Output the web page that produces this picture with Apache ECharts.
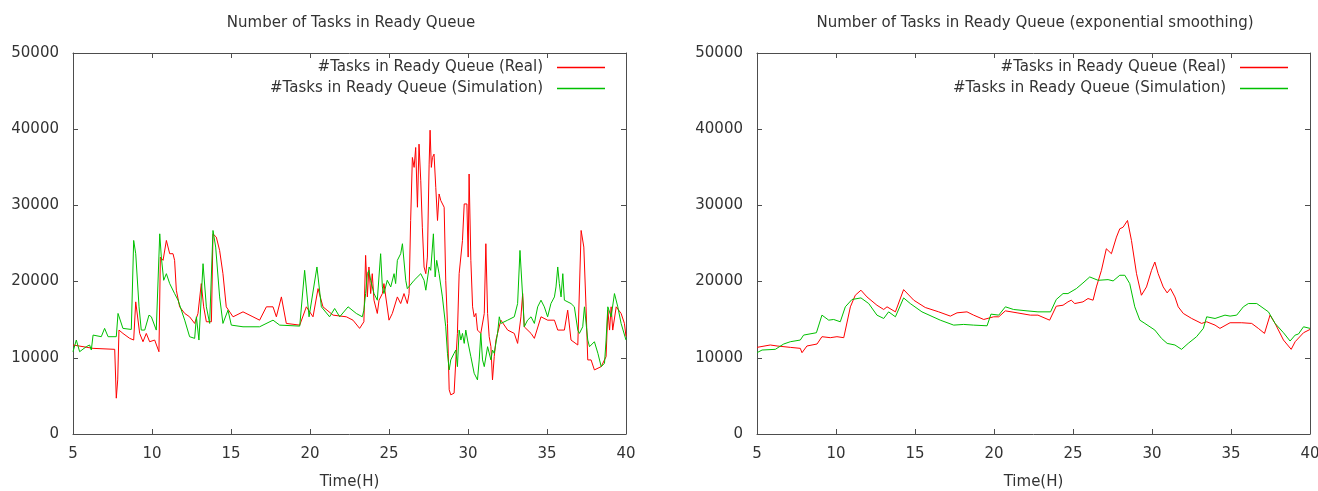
<!DOCTYPE html>
<html>
<head>
<meta charset="utf-8">
<script src="https://cdn.jsdelivr.net/npm/echarts@6/dist/echarts.min.js"></script>
<style>
html,body{margin:0;padding:0;background:#fff;}
#c{width:1318px;height:491px;}
</style>
</head>
<body>
<div id="c"></div>
<script>
// ---- titles / labels ----
const titleLeft = 'Number of Tasks in Ready Queue';
const titleRight = 'Number of Tasks in Ready Queue (exponential smoothing)';
const xName = 'Time(H)';
const nameReal = '#Tasks in Ready Queue (Real)';
const nameSim = '#Tasks in Ready Queue (Simulation)';

// ---- axis ranges ----
const xMin = 5, xMax = 40, xStep = 5;
const yMin = 0, yMax = 50000, yStep = 10000;

// ---- left panel: raw values [time(H), tasks] ----
const realRaw = [
[5.00,11680],[6.27,11240],[7.64,11110],[7.74,4700],[7.83,7100],[7.91,13640],[8.16,13200],[8.59,12550],[8.84,12330],[8.97,17340],
[9.07,17120],[9.22,13200],[9.43,12110],[9.64,13200],[9.85,12110],[10.17,12330],[10.44,10800],[10.53,23220],[10.70,22790],[10.91,25400],
[11.12,23660],[11.33,23660],[11.43,22790],[11.54,18870],[11.75,16690],[12.07,15820],[12.38,15380],[12.70,14510],[12.91,15820],[13.12,19740],
[13.27,16690],[13.44,14730],[13.76,14730],[13.86,26270],[14.07,25840],[14.28,24090],[14.49,21040],[14.70,16690],[15.13,15380],[15.76,16030],
[16.39,15380],[16.81,14940],[17.24,16690],[17.66,16690],[17.87,15380],[18.19,17990],[18.50,14510],[19.35,14290],[19.77,16690],[20.19,15380],
[20.51,19080],[20.82,16690],[21.46,15600],[22.30,15380],[22.72,14940],[23.14,13860],[23.41,14730],[23.52,23440],[23.63,17990],[23.73,21920],
[23.84,18430],[23.94,21040],[24.05,17560],[24.26,15820],[24.37,17560],[24.58,18430],[24.68,19740],[25.00,14940],[25.21,15820],[25.53,17990],
[25.74,17120],[25.95,18430],[26.16,17120],[26.27,18430],[26.37,28020],[26.48,36290],[26.59,34990],[26.69,37600],[26.80,29760],[26.90,38040],
[27.01,33240],[27.11,27140],[27.22,21920],[27.33,21040],[27.43,23220],[27.54,35420],[27.60,39870],[27.68,34990],[27.75,36290],[27.85,36730],
[27.96,32370],[28.07,28020],[28.17,31500],[28.28,30630],[28.49,29760],[28.59,20170],[28.70,14510],[28.81,5800],[28.91,5140],[29.12,5360],
[29.23,9720],[29.33,13200],[29.44,21040],[29.65,25400],[29.76,30190],[29.93,30190],[30.01,23220],[30.07,34120],[30.18,22790],[30.29,16690],
[30.39,15380],[30.50,15820],[30.60,13640],[30.81,13200],[31.03,15820],[31.13,24970],[31.24,15820],[31.34,12770],[31.45,11460],[31.55,7100],
[31.66,10150],[31.77,12330],[31.87,13200],[32.08,14940],[32.51,13640],[32.93,13200],[33.14,11890],[33.35,15380],[33.46,18430],[33.56,14070],
[33.99,13200],[34.20,12550],[34.62,15380],[35.04,14940],[35.47,14940],[35.68,13640],[36.10,13640],[36.31,16250],[36.52,12330],[36.95,11680],
[37.16,26710],[37.33,24530],[37.47,16690],[37.58,9720],[37.79,9720],[38.00,8410],[38.43,8840],[38.74,10150],[38.85,16250],[38.96,13640],
[39.06,16690],[39.16,13640],[39.38,16690],[39.69,15820],[39.90,14510],[40.00,12800]
];
const simRaw = [
[5.00,10800],[5.21,12330],[5.42,10800],[5.84,11460],[6.05,11680],[6.16,11020],[6.27,12980],[6.79,12770],[7.00,13860],[7.22,12770],
[7.74,12770],[7.85,15820],[8.16,13860],[8.69,13720],[8.84,25400],[8.97,23660],[9.18,16690],[9.32,13640],[9.54,13640],[9.81,15600],
[9.96,15380],[10.27,13640],[10.49,26270],[10.59,23220],[10.74,20170],[10.91,21040],[11.12,19740],[11.43,18430],[11.65,17560],[12.07,14940],
[12.38,12770],[12.70,12550],[12.81,15380],[12.97,12330],[13.23,22350],[13.44,16690],[13.65,14510],[13.86,26710],[14.03,24530],[14.28,17990],
[14.49,14510],[14.81,16250],[15.02,14290],[15.76,14070],[16.81,14070],[17.66,14940],[18.08,14290],[19.35,14160],[19.66,21480],[19.94,15380],
[20.44,21920],[20.72,16690],[21.24,15380],[21.56,16470],[21.88,15380],[22.41,16690],[22.93,15820],[23.31,15380],[23.41,16250],[23.52,18430],
[23.63,21040],[23.73,21480],[23.84,20170],[24.05,18430],[24.26,17560],[24.47,23660],[24.58,19300],[24.68,18430],[24.89,20170],[25.11,19300],
[25.32,21040],[25.42,19740],[25.53,22790],[25.74,23660],[25.85,24970],[25.95,24970],[26.06,20170],[26.16,19080],[26.59,20170],[27.01,21040],
[27.22,20170],[27.33,18870],[27.54,21920],[27.64,21480],[27.81,26270],[27.92,20610],[28.02,22790],[28.17,21040],[28.38,17990],[28.59,14070],
[28.70,10590],[28.81,8410],[28.91,9720],[29.12,10590],[29.23,11020],[29.33,8840],[29.44,13640],[29.55,12330],[29.65,13200],[29.76,11890],
[29.86,13640],[29.97,12330],[30.18,10150],[30.39,7970],[30.60,7100],[30.71,9720],[30.81,13200],[30.92,9720],[31.03,8840],[31.24,11460],
[31.45,9720],[31.55,11020],[31.66,10590],[31.87,13200],[31.98,15380],[32.08,14510],[32.51,14940],[32.93,15380],[33.14,17120],[33.29,24090],
[33.46,17990],[33.56,14070],[33.77,14940],[33.99,15380],[34.20,14510],[34.41,16690],[34.62,17560],[34.83,16690],[35.04,15380],[35.25,17120],
[35.47,17990],[35.57,19300],[35.68,21920],[35.78,19740],[35.89,17990],[36.00,21040],[36.10,17560],[36.52,17120],[36.73,16690],[36.95,13640],
[37.05,13200],[37.26,14070],[37.37,16690],[37.58,12330],[37.69,11460],[38.00,12110],[38.22,10590],[38.43,8840],[38.64,9280],[38.74,12330],
[38.85,16690],[39.06,15380],[39.27,18430],[39.38,18430],[39.48,16690],[39.69,14510],[40.00,12330]
];

// ---- right panel: exponentially smoothed values [time(H), tasks] ----
const realSmooth = [
[5.00,11370],[5.84,11680],[6.27,11550],[7.11,11370],[7.74,11240],[7.85,10670],[8.16,11550],[8.80,11810],[9.11,12770],[9.64,12640],
[10.06,12770],[10.49,12640],[10.91,16690],[11.22,18210],[11.58,18870],[11.96,17990],[12.59,16900],[13.02,16340],[13.23,16690],[13.76,16030],
[14.28,18950],[14.92,17560],[15.65,16600],[16.50,16030],[17.24,15470],[17.66,15900],[18.29,16030],[18.71,15600],[19.35,15030],[19.98,15380],
[20.30,15380],[20.72,16160],[21.46,15900],[22.30,15600],[22.78,15600],[23.52,14940],[23.94,16770],[24.37,16900],[24.68,17340],[24.89,17560],
[25.11,17120],[25.63,17340],[25.95,17780],[26.27,17560],[26.48,19300],[26.80,21480],[27.11,24310],[27.43,23660],[27.75,25840],[27.96,26930],
[28.17,27140],[28.45,28020],[28.70,25400],[29.02,21040],[29.33,18210],[29.65,19300],[29.97,21480],[30.18,22570],[30.39,21040],[30.71,19300],
[30.96,18520],[31.17,19080],[31.45,17990],[31.66,16690],[31.98,15820],[32.51,15160],[33.14,14510],[33.46,14730],[33.99,14290],[34.30,13860],
[34.94,14600],[35.68,14600],[36.31,14510],[36.73,13860],[37.12,13200],[37.47,15600],[37.79,14510],[38.32,12330],[38.81,11110],[39.06,12110],
[39.59,13290],[40.00,13720]
];
const simSmooth = [
[5.00,10670],[5.32,11020],[6.16,11110],[6.69,11810],[7.11,12110],[7.74,12330],[7.95,12980],[8.76,13290],[9.11,15600],[9.54,14940],
[9.85,15030],[10.27,14730],[10.59,16690],[11.01,17650],[11.58,17860],[12.07,17120],[12.59,15600],[13.02,15160],[13.33,16030],[13.76,15380],
[14.28,17860],[14.70,17120],[15.44,16030],[16.60,14940],[17.45,14290],[18.08,14380],[18.71,14290],[19.56,14200],[19.81,15730],[20.30,15600],
[20.72,16690],[21.24,16340],[22.09,16160],[22.78,16030],[23.58,16030],[23.94,17650],[24.37,18430],[24.68,18430],[25.21,19080],[25.63,19820],
[26.06,20610],[26.59,20170],[27.22,20260],[27.54,20090],[27.96,20830],[28.28,20830],[28.59,19740],[28.91,16690],[29.23,14940],[29.55,14510],
[30.18,13640],[30.60,12550],[30.96,11890],[31.07,12110],[31.45,11680],[31.87,11110],[32.29,11890],[32.82,12770],[33.25,13860],[33.46,15380],
[33.99,15160],[34.62,15600],[34.94,15470],[35.36,15600],[35.78,16690],[36.10,17120],[36.63,17120],[37.37,16030],[37.79,14510],[38.32,13290],
[38.74,12200],[39.06,12980],[39.27,13120],[39.59,14070],[40.00,13860]
];

const RED = '#ff0000', GREEN = '#00c000';
const FONT = 'DejaVu Sans';
const TXT = '#333333';
const AX = '#4d4d4d';

const chart = echarts.init(document.getElementById('c'), null, {renderer: 'canvas'});

function xAx(grid, pos, labels) {
  return {
    type: 'value', gridIndex: grid, position: pos, min: xMin, max: xMax, interval: xStep,
    name: labels ? xName : '', nameLocation: 'middle', nameGap: 41,
    nameTextStyle: {fontFamily: FONT, fontSize: 15, color: TXT},
    axisLine: {show: true, onZero: false, lineStyle: {color: AX, width: 1}},
    axisTick: {show: true, inside: true, length: 5, lineStyle: {color: AX}},
    axisLabel: {show: labels, margin: 13, fontFamily: FONT, fontSize: 15, color: TXT,
      formatter: function (v) { return String(v); }},
    splitLine: {show: false}
  };
}
function yAx(grid, pos, labels) {
  return {
    type: 'value', gridIndex: grid, position: pos, min: yMin, max: yMax, interval: yStep,
    axisLine: {show: true, onZero: false, lineStyle: {color: AX, width: 1}},
    axisTick: {show: true, inside: true, length: 5, lineStyle: {color: AX}},
    axisLabel: {show: labels, margin: 14, fontFamily: FONT, fontSize: 15, color: TXT,
      formatter: function (v) { return String(v); }},
    splitLine: {show: false}
  };
}
function line(name, data, color, xi, yi) {
  return {
    type: 'line', name: name, data: data, xAxisIndex: xi, yAxisIndex: yi,
    showSymbol: false, symbol: 'none', animation: false,
    lineStyle: {color: color, width: 1}, itemStyle: {color: color}
  };
}
function leg(name, right, top) {
  return {
    data: [name], right: right, top: top, align: 'right', orient: 'vertical',
    padding: 0, icon: 'rect', itemWidth: 48, itemHeight: 1.5, selectedMode: false,
    textStyle: {fontFamily: FONT, fontSize: 15, color: TXT, padding: [0, 9, 0, 0]}
  };
}

chart.setOption({
  animation: false,
  backgroundColor: '#ffffff',
  title: [
    {text: titleLeft, left: 346, top: 11, textAlign: 'center',
     textStyle: {fontFamily: FONT, fontSize: 15, fontWeight: 'normal', color: TXT}},
    {text: titleRight, left: 1030, top: 11, textAlign: 'center',
     textStyle: {fontFamily: FONT, fontSize: 15, fontWeight: 'normal', color: TXT}}
  ],
  legend: [
    leg(nameReal, 713, 60), leg(nameSim, 713, 81),
    leg(nameReal, 30, 60), leg(nameSim, 30, 81)
  ],
  grid: [
    {left: 73, right: 692, top: 53, bottom: 57, outerBoundsMode: 'none', containLabel: false},
    {left: 757, right: 8, top: 53, bottom: 57, outerBoundsMode: 'none', containLabel: false}
  ],
  xAxis: [xAx(0, 'bottom', true), xAx(0, 'top', false), xAx(1, 'bottom', true), xAx(1, 'top', false)],
  yAxis: [yAx(0, 'left', true), yAx(0, 'right', false), yAx(1, 'left', true), yAx(1, 'right', false)],
  series: [
    line(nameReal, realRaw, RED, 0, 0),
    line(nameSim, simRaw, GREEN, 0, 0),
    line(nameReal, realSmooth, RED, 2, 2),
    line(nameSim, simSmooth, GREEN, 2, 2)
  ]
});
</script>
</body>
</html>
